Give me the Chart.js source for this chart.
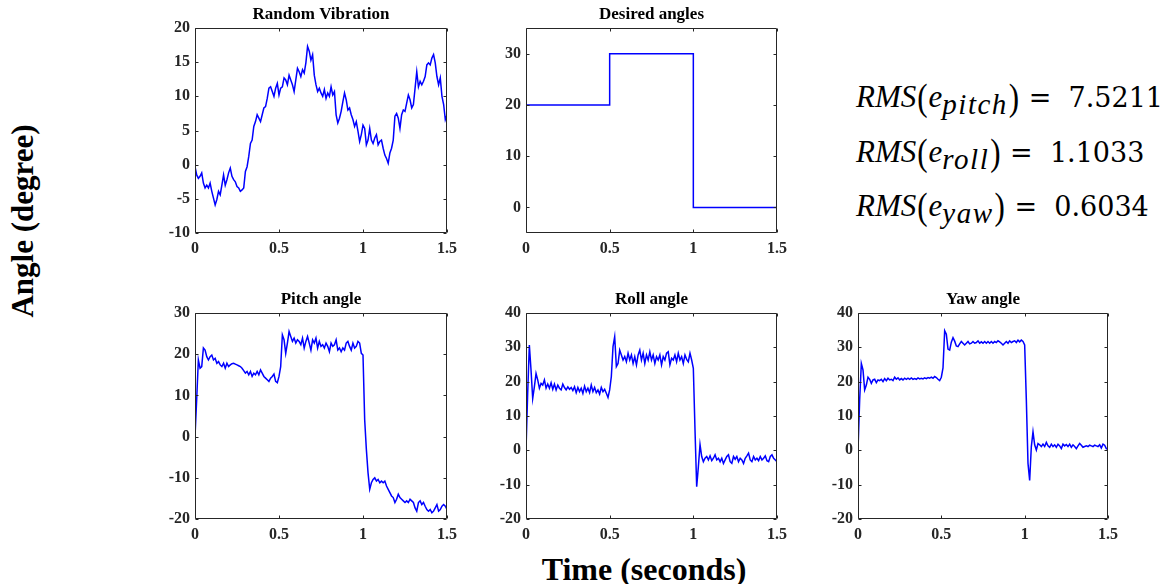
<!DOCTYPE html>
<html>
<head>
<meta charset="utf-8">
<script src="https://cdn.jsdelivr.net/npm/chart.js@4/dist/chart.umd.min.js"></script>
<style>
    html, body { margin: 0; padding: 0; background: #fff; }
    #page { position: relative; width: 1172px; height: 584px; overflow: hidden; }
    .panel { position: absolute; }
    .axis-label { position: absolute; font-family: 'Liberation Serif', 'Times New Roman', serif; font-weight: bold; color: #000; white-space: nowrap; }
    #ylabel { left: 23px; top: 221px; font-size: 31px; transform: translate(-50%, -50%) rotate(-90deg); }
    #xlabel { left: 644px; top: 551px; font-size: 32px; transform: translateX(-50%); }
    .rms { position: absolute; left: 856px; font-family: 'DejaVu Serif', serif; font-size: 27px; line-height: 30px; white-space: nowrap; color: #000; }
    .rms i { font-family: 'Liberation Serif', serif; font-style: italic; font-size: 31px; }
    .rms .par { font-family: 'Liberation Serif', serif; font-size: 31px; display: inline-block; transform: scaleY(1.25); margin: 0 1px; }
    .rms .sub { font-family: 'Liberation Serif', serif; font-style: italic; font-size: 29px; position: relative; top: 7px; letter-spacing: 1.5px; }
</style>
</head>
<body>
<div id="page">
    <div class="panel" id="wrap-rv"><canvas id="rvChart"></canvas></div>
    <div class="panel" id="wrap-da"><canvas id="daChart"></canvas></div>
    <div class="panel" id="wrap-pa"><canvas id="paChart"></canvas></div>
    <div class="panel" id="wrap-ra"><canvas id="raChart"></canvas></div>
    <div class="panel" id="wrap-ya"><canvas id="yaChart"></canvas></div>

    <div class="axis-label" id="ylabel">Angle (degree)</div>
    <div class="axis-label" id="xlabel">Time (seconds)</div>

    <div class="rms" style="top:82px"><i>RMS</i><span class="par">(</span><i>e</i><span class="sub">pitch</span><span class="par">)</span> = &nbsp;7.5211</div>
    <div class="rms" style="top:137px"><i>RMS</i><span class="par">(</span><i>e</i><span class="sub">roll</span><span class="par">)</span> = &nbsp;1.1033</div>
    <div class="rms" style="top:191px"><i>RMS</i><span class="par">(</span><i>e</i><span class="sub">yaw</span><span class="par">)</span> = &nbsp;0.6034</div>
</div>

<script>
// --- Data (one sample every 0.01 s from 0 to 1.5 s) ---
const SAMPLE_DT = 0.01;
const xTicks = [0, 0.5, 1, 1.5];

const randomVibration = [
    -0.3, -1.5, -2, -1.7, -1.2, -2.7, -3.4, -3, -3.4, -2.7,
    -3.9, -4.9, -5.9, -5.1, -3.9, -4.4, -3, -1.5, -3, -2.2,
    -1.2, -0.5, -1.7, -2.2, -2.5, -3.2, -3.4, -3.9, -3.7, -3.4,
    -1, -0.3, 1.2, 3.1, 3.6, 5.6, 6.3, 7.3, 6.8, 6.3,
    7.3, 8.3, 8.5, 9.7, 11.2, 11.4, 10.7, 10, 11.2, 11.9,
    10.2, 11.2, 11.4, 12.7, 12.4, 11.7, 13.1, 12.4, 11.7, 10.7,
    12.4, 14.1, 13.6, 12.9, 13.9, 13.4, 14.9, 17.3, 16.6, 15.3,
    16.1, 13.1, 11.7, 10.7, 11.2, 10.5, 10, 11, 9.7, 10.5,
    10, 11.4, 10.2, 10.7, 7.3, 6.1, 6.8, 7.8, 9.2, 10.5,
    9.5, 8, 8.3, 7.3, 6.6, 5.6, 6.3, 4.9, 3.4, 4.4,
    5.8, 5.3, 2.9, 3.6, 5.3, 3.6, 3.1, 3.9, 4.4, 2.9,
    3.4, 3.6, 2.4, 1.4, 0.9, 0.2, 1.7, 2.4, 3.6, 7.1,
    7.5, 6.8, 5.3, 7.3, 8, 7.8, 9, 10.2, 9.5, 8.3,
    8.8, 11.2, 13.6, 11.4, 12.2, 11.7, 12.2, 12.9, 14.6, 14.9,
    14.6, 15.6, 16.1, 14.9, 12.9, 11.7, 12.7, 10, 8.8, 6.6,
    7.3
];

const desiredT = [0, 0.5, 0.5, 1, 1, 1.5];
const desiredAngle = [20, 20, 30, 30, 0, 0];

const pitchAngle = [
    0, 9, 18.6, 16.6, 17, 21.5, 21, 19.4, 18.6, 19.4,
    19.8, 18.6, 19, 17.8, 18.2, 17.4, 17, 17.8, 16.6, 17.8,
    17, 17.4, 17.7, 17.8, 17.6, 17.4, 17.2, 17, 16.6, 16,
    15.4, 15.8, 15, 15.8, 14.6, 15.4, 15, 15.8, 15, 16.2,
    15.4, 14.6, 14.2, 13.8, 13.4, 14.2, 14.6, 15.2, 13.4, 13.1,
    14.6, 17, 24.7, 23.5, 20.2, 22.7, 25.5, 24.3, 23.1, 23.9,
    22.7, 23.5, 23.1, 22.3, 23.9, 21.5, 23.1, 24.3, 22.7, 21,
    23.5, 22.7, 23.9, 21.5, 23.1, 21.9, 22.3, 21.5, 22.7, 21.9,
    20.6, 22.7, 21.9, 22.3, 23.5, 21, 21.5, 20.6, 21.5, 21,
    22.7, 23.1, 21.9, 21, 22.7, 21.5, 21.9, 23.1, 22.7, 20.2,
    19.8, 4.1, -3.1, -8.8, -12.8, -11.2, -10.4, -10, -10.8, -10.4,
    -11.2, -10.8, -11.2, -10.8, -12, -12.8, -13.6, -14.4, -14.8, -16,
    -15.2, -14, -14.8, -15.2, -15.6, -16, -15.6, -16, -15.2, -15.6,
    -16, -17.3, -18.1, -16, -15.6, -16.5, -16, -16.9, -17.7, -18.1,
    -17.7, -18.5, -18.1, -17.3, -16.5, -18.1, -17.7, -16.9, -16.5, -16.9,
    -17.7
];

const rollAngle = [
    0, 16.6, 30.7, 23.4, 15.1, 18.5, 22.4, 20.5, 18.1, 19.5,
    19, 20.5, 18.1, 19.3, 18.1, 19.7, 17.8, 19.3, 17.6, 19,
    18.1, 17.6, 19.3, 18.3, 17.6, 18.5, 17.8, 18.3, 17.4, 18.5,
    16.8, 18.3, 17.1, 18.1, 16.6, 18.7, 17.1, 18.1, 16.8, 19,
    17.1, 18.3, 16.8, 17.6, 16.4, 18.3, 17.1, 17.8, 16.6, 15.4,
    17.6, 21.5, 30.2, 33.1, 24.4, 25.3, 29.2, 27.8, 26.3, 27.3,
    25.8, 28.3, 26.3, 27.8, 25.3, 27.3, 24.9, 27.8, 29.2, 26.3,
    28.3, 25.3, 27.8, 26.3, 28.7, 26.3, 27.8, 25.3, 27.3, 26.3,
    27.8, 24.9, 27.3, 26.3, 28.3, 28.7, 24.9, 26.8, 26.3, 27.8,
    25.8, 28.3, 26.3, 27.3, 25.3, 27.8, 26.5, 25.8, 28.3, 26.3,
    23.9, 5.9, -10.6, -4.8, 1.7, -1.8, -3.3, -2.3, -1.8, -2.8,
    -1.6, -3, -2.3, -1.3, -2.8, -2.3, -3.3, -2.3, -3.8, -2.8,
    -1.8, -1.3, -3.3, -3.8, -1.8, -2.6, -1.8, -3.3, -2.3, -2.8,
    -3.8, -2.3, -1.6, -0.8, -2.8, -3.3, -1.8, -2.8, -2.3, -3,
    -1.8, -2.8, -2.3, -1.6, -3, -3.3, -1.8, -1.3, -2.3, -2.8,
    -3.3
];

const yawAngle = [
    0, 14.7, 25.3, 23.4, 17.6, 19, 21.3, 20.7, 19.5, 20.5,
    20.7, 19.7, 20.5, 20.3, 20.7, 20, 20.9, 20.3, 21, 20.5,
    20.7, 20.3, 21.3, 20.7, 21.1, 20.5, 20.9, 20.5, 21, 20.7,
    21, 20.7, 21.1, 20.7, 20.9, 20.7, 21.1, 20.8, 21, 20.8,
    21.1, 20.9, 21.2, 21, 21.3, 21, 21.5, 21.2, 20.7, 20.3,
    21.3, 24, 34.8, 33.8, 29.5, 29.2, 31.5, 32.8, 31.8, 30.4,
    30.2, 31, 31.7, 31.2, 30.7, 31.2, 31.7, 31, 31.2, 31.7,
    31.2, 31.4, 31.9, 31.2, 31.6, 31.2, 31.7, 31.2, 31.7, 31.2,
    31.7, 31.2, 31.7, 31.4, 31.9, 31.6, 31.2, 30.7, 31.2, 31.7,
    31.2, 31.9, 31.4, 31.7, 31.9, 31.4, 32.1, 31.6, 32.1, 31.7,
    30.7, 14.7, -3.8, -8.8, 1.1, 5.4, 1.6, 0.1, 2, 1.6,
    1.1, 1.8, 1.1, 2.3, 1.3, 0.9, 1.8, 1.1, 1.6, 0.9,
    1.8, 1.3, 0.5, 1.8, 1.3, 1.7, 1.1, 1.8, 0.9, 1.6,
    1.1, 0.5, 1.3, 2, 1.5, 0.9, 1.1, 1.3, 1.1, 1.5,
    1.3, 1.1, 1.5, 1.3, 1.1, 1.6, 0.7, 1.8, 1.5, 0.5,
    0.3
];

// --- Look ---
const FONT_FAMILY = "'Liberation Serif', 'Times New Roman', serif";
const AXIS_COLOR = '#262626';
const LINE_COLOR = '#0000ff';

// plot-area rectangles in page pixels
const panels = [
    { id: 'rv', title: 'Random Vibration', left: 195, top: 28, width: 252, height: 205, yMin: -10, yMax: 20, yStep: 5 },
    { id: 'da', title: 'Desired angles',   left: 526, top: 28, width: 251, height: 205, yMin: -5,  yMax: 35, yStep: 10, yFirst: 0 },
    { id: 'pa', title: 'Pitch angle',      left: 195, top: 313, width: 252, height: 206, yMin: -20, yMax: 30, yStep: 10 },
    { id: 'ra', title: 'Roll angle',       left: 526, top: 313, width: 251, height: 206, yMin: -20, yMax: 40, yStep: 10 },
    { id: 'ya', title: 'Yaw angle',        left: 858, top: 313, width: 250, height: 206, yMin: -20, yMax: 40, yStep: 10 }
];

const PAD_LEFT = 5, Y_AXIS_W = 45, PAD_TOP = 5, TITLE_H = 23, PAD_RIGHT = 18, X_AXIS_H = 28;
const TITLE_SIZE = 17, TICK_SIZE = 16;

function toPoints(values) {
    return values.map((v, i) => ({ x: +(i * SAMPLE_DT).toFixed(2), y: v }));
}

function pairPoints(xs, ys) {
    return xs.map((x, i) => ({ x: x, y: ys[i] }));
}

// MATLAB style box with inward ticks on all four sides
const boxPlugin = {
    id: 'matlabBox',
    afterDatasetsDraw(chart) {
        const { ctx, chartArea: a, scales } = chart;
        const l = Math.round(a.left) + 0.5, r = Math.round(a.right) - 0.5;
        const t = Math.round(a.top) + 0.5, b = Math.round(a.bottom) - 0.5;
        const len = 3;
        ctx.save();
        ctx.strokeStyle = AXIS_COLOR;
        ctx.lineWidth = 1;
        ctx.beginPath();
        ctx.rect(l, t, r - l, b - t);
        scales.x.ticks.forEach(tk => {
            const px = Math.round(scales.x.getPixelForValue(tk.value)) + 0.5;
            ctx.moveTo(px, b); ctx.lineTo(px, b - len);
            ctx.moveTo(px, t); ctx.lineTo(px, t + len);
        });
        scales.y.ticks.forEach(tk => {
            const py = Math.round(scales.y.getPixelForValue(tk.value)) + 0.5;
            ctx.moveTo(l, py); ctx.lineTo(l + len, py);
            ctx.moveTo(r, py); ctx.lineTo(r - len, py);
        });
        ctx.stroke();
        ctx.restore();
    }
};

function buildChart(p, points) {
    const wrap = document.getElementById(`wrap-${p.id}`);
    const w = p.width + PAD_LEFT + Y_AXIS_W + PAD_RIGHT;
    const h = p.height + PAD_TOP + TITLE_H + X_AXIS_H;
    wrap.style.left = (p.left - PAD_LEFT - Y_AXIS_W) + 'px';
    wrap.style.top = (p.top - PAD_TOP - TITLE_H) + 'px';
    wrap.style.width = w + 'px';
    wrap.style.height = h + 'px';

    return new Chart(document.getElementById(`${p.id}Chart`), {
        type: 'line',
        data: {
            datasets: [{
                data: points,
                borderColor: LINE_COLOR,
                borderWidth: 1.5,
                pointRadius: 0,
                tension: 0,
                fill: false
            }]
        },
        options: {
            responsive: true,
            maintainAspectRatio: false,
            animation: false,
            parsing: false,
            layout: { padding: { left: PAD_LEFT, top: PAD_TOP, right: PAD_RIGHT, bottom: 0 } },
            plugins: {
                legend: { display: false },
                tooltip: { enabled: false },
                title: {
                    display: true,
                    text: p.title,
                    fullSize: false,
                    color: '#000',
                    font: { family: FONT_FAMILY, size: TITLE_SIZE, weight: 'bold', lineHeight: '19px' },
                    padding: { top: 0, bottom: 4 }
                }
            },
            scales: {
                x: {
                    type: 'linear',
                    min: 0,
                    max: 1.5,
                    afterBuildTicks: s => { s.ticks = xTicks.map(v => ({ value: v })); },
                    afterFit: s => { s.height = X_AXIS_H; },
                    grid: { display: false, drawTicks: false },
                    border: { display: false },
                    ticks: {
                        color: AXIS_COLOR,
                        padding: 6,
                        maxRotation: 0,
                        font: { family: FONT_FAMILY, size: TICK_SIZE, weight: 'bold' },
                        callback: v => String(v)
                    }
                },
                y: {
                    min: p.yMin,
                    max: p.yMax,
                    afterBuildTicks: s => {
                        const ticks = [];
                        const first = p.yFirst !== undefined ? p.yFirst : p.yMin;
                        for (let v = first; v <= p.yMax + 1e-9; v += p.yStep) ticks.push({ value: v });
                        s.ticks = ticks;
                    },
                    afterFit: s => { s.width = Y_AXIS_W; },
                    grid: { display: false, drawTicks: false },
                    border: { display: false },
                    ticks: {
                        color: AXIS_COLOR,
                        padding: 5,
                        font: { family: FONT_FAMILY, size: TICK_SIZE, weight: 'bold' },
                        callback: v => String(v)
                    }
                }
            }
        },
        plugins: [boxPlugin]
    });
}

// --- Initialization ---
const seriesById = {
    rv: toPoints(randomVibration),
    da: pairPoints(desiredT, desiredAngle),
    pa: toPoints(pitchAngle),
    ra: toPoints(rollAngle),
    ya: toPoints(yawAngle)
};

panels.forEach(p => buildChart(p, seriesById[p.id]));
</script>
</body>
</html>
